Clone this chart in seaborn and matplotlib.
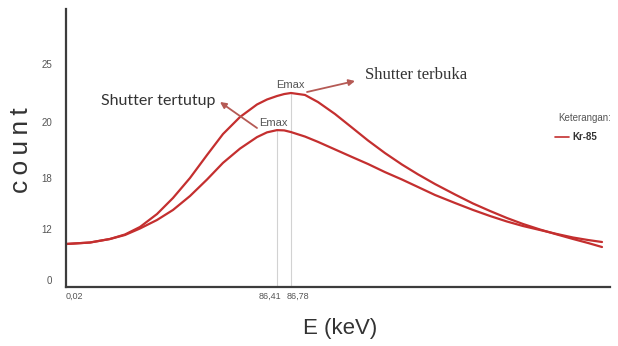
import numpy as np
import pandas as pd
import matplotlib
matplotlib.use("Agg")
import matplotlib.pyplot as plt
from matplotlib.lines import Line2D
from matplotlib.ticker import FixedLocator, FixedFormatter, NullLocator
from matplotlib.transforms import ScaledTranslation
import seaborn as sns

# ---- data -------------------------------------------------------------
energy_kev = [-3.38, 6.83, 15.34, 21.72, 28.11, 35.34, 42.15, 49.38, 56.62,
              63.42, 70.66, 77.89, 82.15, 86.41, 86.60, 86.78, 92.74, 98.27,
              105.50, 112.74, 119.55, 126.78, 134.01, 140.82, 148.06,
              156.57, 164.23, 171.46, 178.69, 185.50, 192.74, 199.97,
              206.78, 213.16, 219.12]
count_terbuka = [8.47, 8.82, 9.65, 10.71, 12.24, 13.76, 15.65, 18.00, 18.82,
                 19.57, 20.43, 21.51, 21.94, 22.24, 22.41, 22.50, 22.33, 21.72,
                 20.69, 19.80, 19.34, 18.89, 18.48, 18.13, 17.29,
                 16.06, 15.00, 14.12, 13.29, 12.59, 11.88, 10.71,
                 9.65, 8.71, 7.76]
count_tertutup = [8.47, 8.82, 9.65, 10.59, 12.06, 13.06, 14.24, 15.88, 17.82,
                  18.54, 19.05, 19.46, 19.63, 19.71, 19.70, 19.64, 19.48, 19.29,
                  19.02, 18.75, 18.50, 18.21, 17.82, 16.94, 16.00,
                  15.06, 14.24, 13.53, 12.88, 12.35, 11.76, 10.82,
                  10.00, 9.41, 8.94]
emax_kev = {"tertutup": 86.41, "terbuka": 86.78}
x_ticks = [0.02, 86.41, 86.78]
x_ticklabels = ["0,02", "86,41", "86,78"]
y_ticks = [0, 12, 18, 20, 25]
y_ticklabels = ["0", "12", "18", "20", "25"]

# ---- axis layout: uneven spacing of the printed ticks ------------------
W, H = 618, 346
x_lim = (-3.38, 222.52)
y_lim = (-1.65, 29.8)
x_knot_pos = [0, 8, 211, 225, 544]           # pixels along the x axis
y_knot_pos = [0, 7, 58, 109, 165, 223, 278]  # pixels along the y axis


def piecewise_scale(knots, pos):
    k = np.asarray(knots, float)
    p = np.asarray(pos, float)
    s0 = (p[1] - p[0]) / (k[1] - k[0])
    s1 = (p[-1] - p[-2]) / (k[-1] - k[-2])
    K = np.concatenate([[k[0] - 1e4], k, [k[-1] + 1e4]])
    P = np.concatenate([[p[0] - 1e4 * s0], p, [p[-1] + 1e4 * s1]])

    def fwd(v):
        return np.interp(v, K, P)

    def inv(v):
        return np.interp(v, P, K)
    return fwd, inv


def fig_xy(x, y):
    return (x / W, 1 - y / H)


sns.set_theme(style="white")
plt.rcParams["font.family"] = ["Liberation Sans", "DejaVu Sans"]

fig = plt.figure(figsize=(W / 100, H / 100), dpi=100)
fig.patch.set_facecolor("white")
ax = fig.add_axes([66 / W, 59 / H, 544 / W, 278 / H])

ax.set_xscale("function", functions=piecewise_scale([x_lim[0]] + x_ticks + [x_lim[1]], x_knot_pos))
ax.set_yscale("function", functions=piecewise_scale([y_lim[0]] + y_ticks + [y_lim[1]], y_knot_pos))

df = pd.DataFrame({"E": energy_kev, "terbuka": count_terbuka, "tertutup": count_tertutup})
line_color = "#c42f2f"
for col in ("terbuka", "tertutup"):
    sns.lineplot(data=df, x="E", y=col, ax=ax, color=line_color, lw=1.6, estimator=None)

# thin guides from the axis up to each peak (Emax)
for col, ek in emax_kev.items():
    peak = df.loc[df["E"] == ek, col].iloc[0]
    ax.plot([ek, ek], [y_lim[0], peak], color="#d2d2d2", lw=0.8, zorder=1)

ax.set_xlim(*x_lim)
ax.set_ylim(*y_lim)

for side in ("top", "right"):
    ax.spines[side].set_visible(False)
for side in ("left", "bottom"):
    ax.spines[side].set_color("#3c3c3c")
    ax.spines[side].set_linewidth(1.6)

ax.xaxis.set_major_locator(FixedLocator(x_ticks))
ax.xaxis.set_major_formatter(FixedFormatter(x_ticklabels))
ax.yaxis.set_major_locator(FixedLocator(y_ticks))
ax.yaxis.set_major_formatter(FixedFormatter(y_ticklabels))
ax.xaxis.set_minor_locator(NullLocator())
ax.yaxis.set_minor_locator(NullLocator())
ax.tick_params(axis="both", direction="inout", length=4, width=1.2, color="#333333",
               labelcolor="#555555")
ax.tick_params(axis="x", labelsize=6.5, pad=1.5)
ax.tick_params(axis="y", labelsize=7, pad=8)

# pull the two close tick labels apart
shifts = {"86,41": -7, "86,78": 7}
for lab in ax.get_xticklabels():
    dx = shifts.get(lab.get_text(), 0)
    if dx:
        lab.set_transform(lab.get_transform() + ScaledTranslation(dx / 100, 0, fig.dpi_scale_trans))

ax.set_ylabel("c\u2009o\u2009u\u2009n\u2009t", fontsize=19, color="#333333")
ax.yaxis.set_label_coords((33 - 66) / 544, (287 - 150) / 278)
ax.set_xlabel("E (keV)", fontsize=16, color="#333333")
ax.xaxis.set_label_coords((340 - 66) / 544, (287 - 318) / 278)

# annotations
arrow_color = "#b55a55"
fig.text(*fig_xy(158, 101), "Shutter tertutup", fontsize=11.5, family=["Lato", "DejaVu Sans"],
         color="#333333", ha="center", va="center")
fig.text(*fig_xy(416, 75), "Shutter terbuka", fontsize=12, family=["Liberation Serif", "DejaVu Serif"],
         color="#333333", ha="center", va="center")
fig.text(*fig_xy(290, 85), "Emax", fontsize=8, color="#555555", ha="center", va="center")
fig.text(*fig_xy(273, 123), "Emax", fontsize=8, color="#555555", ha="center", va="center")
ax.annotate("", xy=fig_xy(220, 102), xytext=fig_xy(257, 128),
            xycoords="figure fraction", textcoords="figure fraction",
            arrowprops=dict(arrowstyle="-|>", color=arrow_color, lw=1.3, mutation_scale=9,
                            shrinkA=0, shrinkB=0))
ax.annotate("", xy=fig_xy(355, 81), xytext=fig_xy(307, 92),
            xycoords="figure fraction", textcoords="figure fraction",
            arrowprops=dict(arrowstyle="-|>", color=arrow_color, lw=1.3, mutation_scale=9,
                            shrinkA=0, shrinkB=0))

# key
fig.text(*fig_xy(558, 118), "Keterangan:", fontsize=7, color="#555555", ha="left", va="center")
fig.add_artist(Line2D([555 / W, 569 / W], [1 - 137 / H, 1 - 137 / H], color=line_color,
                      lw=1.2, transform=fig.transFigure))
fig.text(*fig_xy(572, 137), "Kr-85", fontsize=7, fontweight="bold", color="#333333",
         ha="left", va="center")

fig.savefig("out.png", dpi=100, facecolor="white")
